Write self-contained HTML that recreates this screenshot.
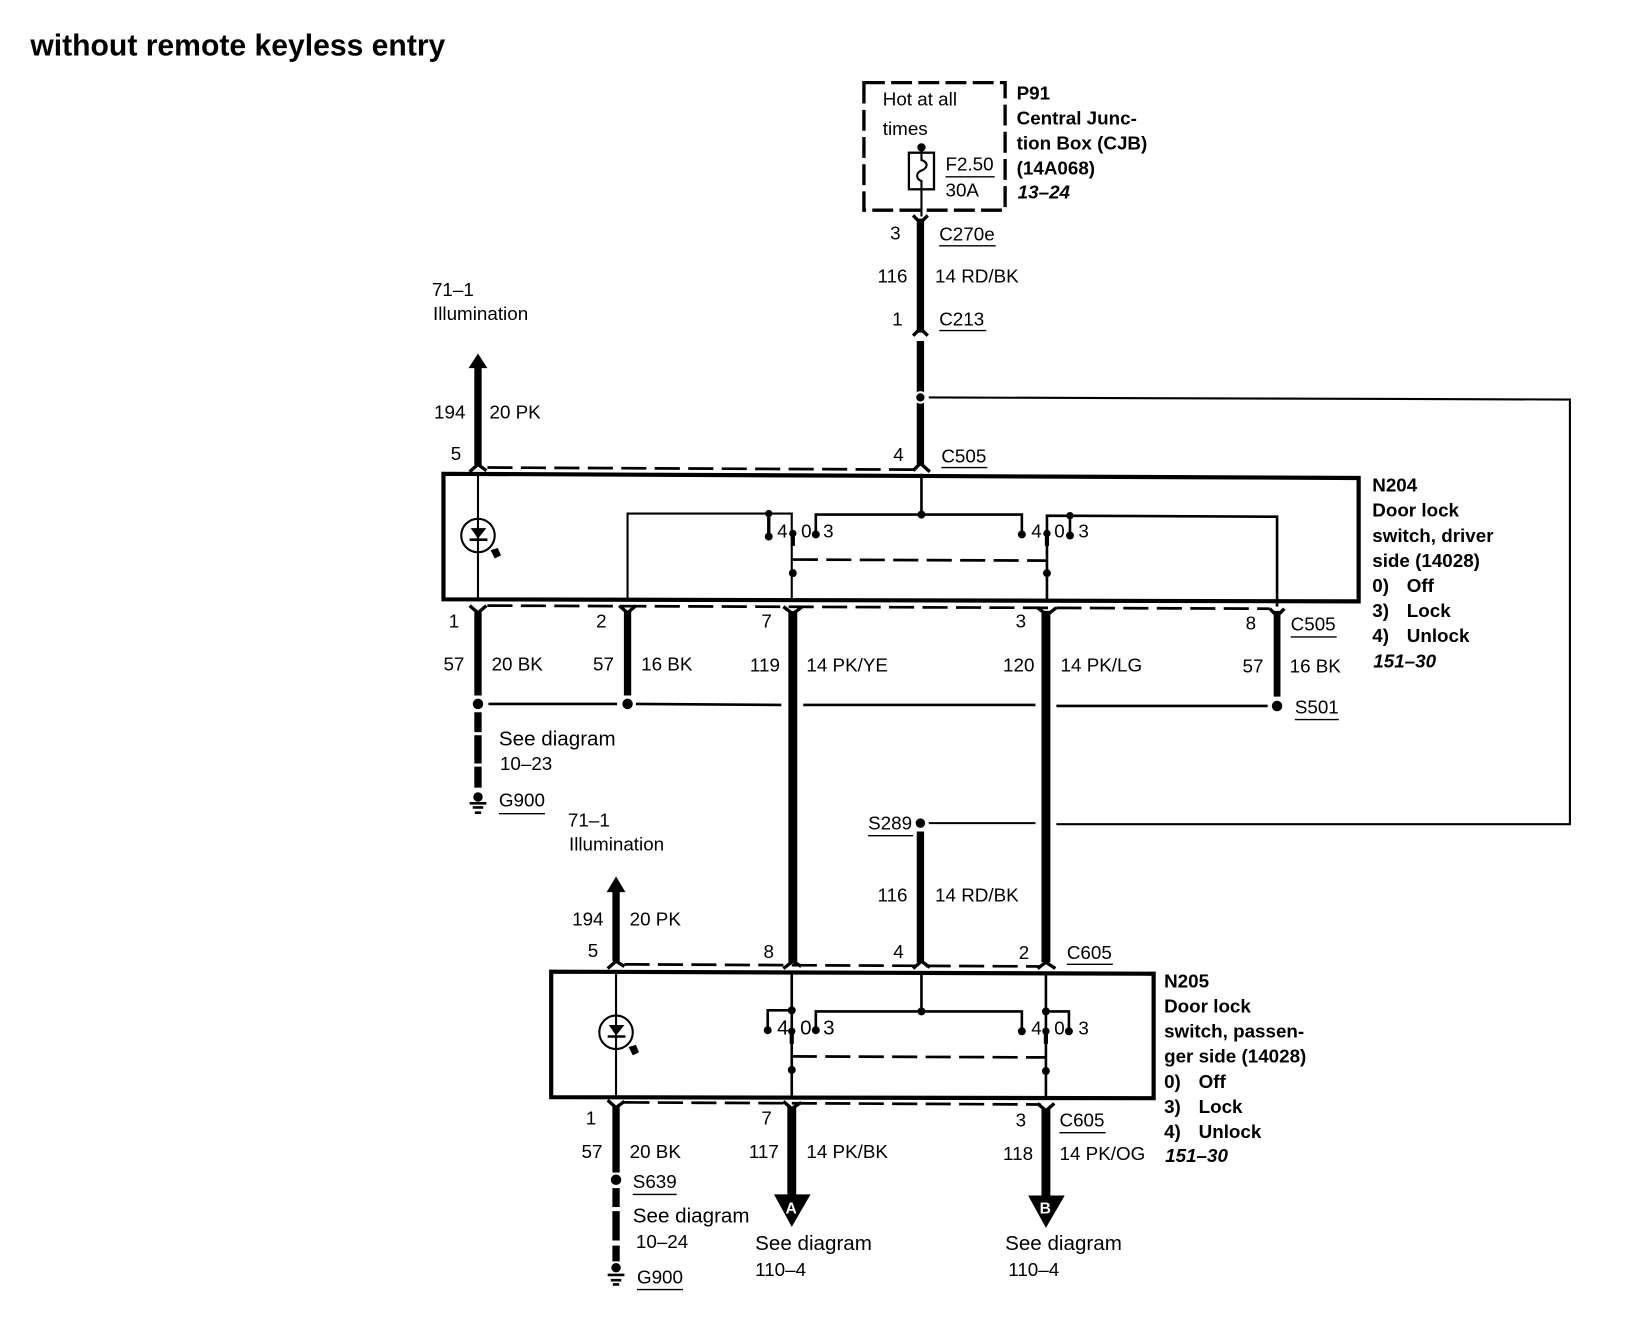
<!DOCTYPE html>
<html><head><meta charset="utf-8"><style>
html,body{margin:0;padding:0;background:#fff}
svg{display:block}
text{font-family:"Liberation Sans",sans-serif;font-size:18px;fill:#000}
.b{font-weight:bold}
.i{font-weight:bold;font-style:italic}
.s{font-size:19.7px}
.t{fill:none;stroke:#000;stroke-width:2}
.n{fill:none;stroke:#000;stroke-width:2.5}
.d{fill:none;stroke:#000;stroke-width:2.6;stroke-dasharray:24 8}
.c{fill:none;stroke:#000;stroke-width:3.2}
.u{fill:none;stroke:#000;stroke-width:1.3}
</style></head><body>
<svg xmlns="http://www.w3.org/2000/svg" width="1640" height="1344" viewBox="0 0 1568 1285">
<rect width="1568" height="1285" fill="#fff"/>
<text class="b" x="29" y="53" style="font-size:28.8px">without remote keyless entry</text>

<!-- P91 -->
<rect x="826" y="79" width="135" height="122" fill="none" stroke="#000" stroke-width="3.2" stroke-dasharray="20 6"/>
<text x="844" y="101">Hot at all</text>
<text x="844" y="129">times</text>
<circle cx="881" cy="141" r="4"/>
<rect x="869" y="146" width="24" height="35" fill="#fff" stroke="#000" stroke-width="2.2"/>
<path class="t" d="M881 141V153C889 156 886 161 881 163C876 165 875 171 881 173V207"/>
<text x="904" y="163">F2.50</text><path class="u" d="M904 169H951"/>
<text x="904" y="188">30A</text>
<text class="b" x="972" y="95">P91</text>
<text class="b" x="972" y="119">Central Junc-</text>
<text class="b" x="972" y="143">tion Box (CJB)</text>
<text class="b" x="972" y="167">(14A068)</text>
<text class="i" x="973" y="190">13–24</text>

<!-- centre top wire -->
<path class="c" d="M873 206L880 213L887 206"/>
<path stroke="#000" stroke-width="7" d="M880 209V318"/>
<path class="c" d="M873 321L880 314L887 321"/>
<path stroke="#000" stroke-width="7" d="M880 326V445"/>
<path class="c" d="M873 450L880 443L889 451"/>
<text x="851" y="229">3</text><text x="898" y="230">C270e</text><path class="u" d="M898 235H952"/>
<text x="839" y="270">116</text><text x="894" y="270">14 RD/BK</text>
<text x="853" y="311">1</text><text x="898" y="311">C213</text><path class="u" d="M898 316H943"/>
<circle cx="880" cy="380" r="6" fill="#fff"/><circle cx="880" cy="380" r="4"/>
<path class="t" d="M888 380L1501 382V788H1010M990 787H888"/>

<!-- left top arrow -->
<path d="M457 338L466 352H448Z"/>
<path stroke="#000" stroke-width="7" d="M457 350V445"/>
<path class="c" d="M449 451L457 444L465 450"/>
<text x="413" y="283">71–1</text><text x="414" y="306">Illumination</text>
<text x="415" y="400">194</text><text x="468" y="400">20 PK</text>
<text x="431" y="440">5</text><text x="854" y="441">4</text>
<text x="900" y="442">C505</text><path class="u" d="M900 447H944"/>
<path class="d" d="M466 447L873 449"/>

<!-- N204 -->
<path d="M424 453L1299 457V575L424 573Z" fill="none" stroke="#000" stroke-width="4"/>
<path class="t" d="M457 453V573"/>
<circle cx="457" cy="512" r="16" class="t"/>
<path d="M450 505H465L457 515Z"/><path class="n" d="M449 516H466"/>
<path d="M469 526L476 524L479 531L473 534Z"/>
<path class="t" d="M600 574V491H757V575"/>
<circle cx="735" cy="491" r="3.5"/><circle cx="735" cy="513" r="3.8"/><path class="c" d="M735 491V513"/>
<text x="743" y="514">4</text><circle cx="758" cy="510" r="3.5"/><path stroke="#000" stroke-width="4" d="M758 512V522"/>
<text x="766" y="514">0</text><circle cx="780" cy="511" r="3.8"/><text x="787" y="514">3</text>
<path class="n" d="M780 511V492H977V511"/><circle cx="881" cy="492" r="3.8"/><circle cx="977" cy="511" r="3.8"/>
<path class="n" d="M881 453V492"/>
<text x="986" y="514">4</text><circle cx="1001" cy="510" r="3.5"/><path stroke="#000" stroke-width="4" d="M1001 512V522"/>
<text x="1008" y="514">0</text><circle cx="1023" cy="512" r="3.8"/><text x="1031" y="514">3</text>
<circle cx="1023" cy="493" r="3.5"/><path class="n" d="M1023 493V512"/>
<path class="n" d="M1001 575V493L1221 494V580"/>
<circle cx="758" cy="548" r="3.8"/><circle cx="1001" cy="548" r="3.8"/>
<path class="d" d="M758 535L1001 536"/>

<!-- under N204 -->
<path class="d" d="M466 579L1214 582"/>
<path class="c" d="M449 579L457 586L465 579"/>
<path class="c" d="M592 579L600 586L608 579"/>
<path class="c" d="M749 580L758 587L767 580"/>
<path class="c" d="M992 581L1001 588L1010 581"/>
<path class="c" d="M1214 582L1221 589L1228 582"/>
<path stroke="#000" stroke-width="7" d="M457 584V665M600 584V665"/>
<path stroke="#000" stroke-width="8.5" d="M758 584V920M1000 584V920"/>
<path stroke="#000" stroke-width="6.5" d="M1221 584V666"/>
<circle cx="457" cy="673" r="5"/><circle cx="600" cy="673" r="5"/><circle cx="1221" cy="675" r="5"/>
<path class="n" d="M467 673H590M608 673L747 674M768 674H990M1010 675H1212"/>
<path stroke="#000" stroke-width="7" d="M457 681V700M457 703V730M457 733V753"/>
<circle cx="457" cy="762" r="4.5"/><path class="n" d="M449 768H465M452 772H462M454 777H460"/>

<text x="429" y="600">1</text><text x="570" y="600">2</text><text x="728" y="600">7</text><text x="971" y="600">3</text><text x="1191" y="602">8</text>
<text x="1234" y="603">C505</text><path class="u" d="M1234 609H1278"/>
<text x="424" y="641">57</text><text x="470" y="641">20 BK</text>
<text x="567" y="641">57</text><text x="613" y="641">16 BK</text>
<text x="717" y="642">119</text><text x="771" y="642">14 PK/YE</text>
<text x="959" y="642">120</text><text x="1014" y="642">14 PK/LG</text>
<text x="1188" y="643">57</text><text x="1233" y="643">16 BK</text>
<text x="1238" y="682">S501</text><path class="u" d="M1238 688H1280"/>
<text class="s" x="477" y="713">See diagram</text><text x="478" y="736">10–23</text>
<text x="477" y="771">G900</text><path class="u" d="M477 778H521"/>

<text class="b" x="1312" y="470">N204</text>
<text class="b" x="1312" y="494">Door lock</text>
<text class="b" x="1312" y="518">switch, driver</text>
<text class="b" x="1312" y="542">side (14028)</text>
<text class="b" x="1312" y="566">0)</text><text class="b" x="1345" y="566">Off</text>
<text class="b" x="1312" y="590">3)</text><text class="b" x="1345" y="590">Lock</text>
<text class="b" x="1312" y="614">4)</text><text class="b" x="1345" y="614">Unlock</text>
<text class="i" x="1313" y="638">151–30</text>

<!-- middle -->
<text x="830" y="793">S289</text><path class="u" d="M830 799H873"/>
<circle cx="880" cy="787" r="4.5"/>
<path stroke="#000" stroke-width="7" d="M880 795V920"/>
<text x="839" y="862">116</text><text x="894" y="862">14 RD/BK</text>
<text x="543" y="790">71–1</text><text x="544" y="813">Illumination</text>
<path d="M589 838L598 853H580Z"/>
<path stroke="#000" stroke-width="7" d="M589 851V919"/>
<text x="547" y="885">194</text><text x="602" y="885">20 PK</text>
<text x="562" y="915">5</text><text x="730" y="916">8</text><text x="854" y="916">4</text><text x="974" y="917">2</text>
<text x="1020" y="917">C605</text><path class="u" d="M1020 922H1064"/>
<path class="d" d="M597 922L995 924"/>
<path class="c" d="M581 926L589 919L597 924"/>
<path class="c" d="M749 926L758 919L766 924"/>
<path class="c" d="M873 926L881 919L889 925"/>
<path class="c" d="M992 926L1000 920L1009 926"/>

<!-- N205 -->
<path d="M527 929L1103 931V1050L527 1049Z" fill="none" stroke="#000" stroke-width="4"/>
<path class="t" d="M589 929V1049"/>
<circle cx="589" cy="987" r="16" class="t"/>
<path d="M582 980H597L589 990Z"/><path class="n" d="M581 991H598"/>
<path d="M601 1001L608 999L611 1006L605 1009Z"/>
<path class="n" d="M757 929V1049M1000 929V1050"/>
<circle cx="757" cy="966" r="3.8"/><path class="n" d="M757 966H734V985"/><circle cx="734" cy="985" r="3.8"/>
<text class="s" x="743" y="989">4</text><circle cx="757" cy="986" r="3.5"/><path stroke="#000" stroke-width="4" d="M757 988V998"/>
<text class="s" x="765" y="989">0</text><circle cx="780" cy="985" r="3.8"/><text class="s" x="787" y="989">3</text>
<path class="n" d="M780 985V967H977V985"/><circle cx="881" cy="967" r="3.8"/><circle cx="977" cy="986" r="3.8"/>
<path class="n" d="M881 929V967"/>
<text x="986" y="989">4</text><circle cx="1000" cy="986" r="3.5"/><path stroke="#000" stroke-width="4" d="M1000 988V998"/>
<text x="1008" y="989">0</text><circle cx="1022" cy="986" r="3.8"/><text x="1031" y="989">3</text>
<circle cx="1000" cy="967" r="3.8"/><path class="n" d="M1000 967H1022V986"/>
<circle cx="757" cy="1023" r="3.8"/><circle cx="1000" cy="1024" r="3.8"/>
<path class="d" d="M757 1010L1000 1011"/>

<path class="d" d="M597 1054L995 1056"/>
<path class="c" d="M581 1052L589 1059L597 1053"/>
<path class="c" d="M749 1053L757 1060L766 1054"/>
<path class="c" d="M992 1055L1000 1062L1008 1055"/>
<path stroke="#000" stroke-width="7" d="M589 1058V1121"/>
<path stroke="#000" stroke-width="8.5" d="M757 1058V1145M1000 1060V1145"/>
<circle cx="589" cy="1128" r="5"/>
<path stroke="#000" stroke-width="7" d="M589 1136V1154M589 1158V1186M589 1191V1206"/>
<circle cx="589" cy="1212" r="4.5"/><path class="n" d="M581 1219H597M584 1224H594M586 1228H592"/>
<path d="M740 1142H775L757 1173Z"/><path d="M983 1143H1018L1000 1174Z"/>
<text class="b" x="751" y="1160" style="font-size:15px;fill:#fff">A</text>
<text class="b" x="994" y="1160" style="font-size:15px;fill:#fff">B</text>

<text x="560" y="1075">1</text><text x="728" y="1075">7</text><text x="971" y="1077">3</text>
<text x="1013" y="1077">C605</text><path class="u" d="M1013 1083H1057"/>
<text x="556" y="1107">57</text><text x="602" y="1107">20 BK</text>
<text x="716" y="1107">117</text><text x="771" y="1107">14 PK/BK</text>
<text x="959" y="1109">118</text><text x="1013" y="1109">14 PK/OG</text>
<text x="605" y="1136">S639</text><path class="u" d="M605 1142H647"/>
<text class="s" x="605" y="1169">See diagram</text><text x="608" y="1193">10–24</text>
<text x="609" y="1227">G900</text><path class="u" d="M609 1233H653"/>
<text class="s" x="722" y="1195">See diagram</text><text x="722" y="1220">110–4</text>
<text class="s" x="961" y="1195">See diagram</text><text x="964" y="1220">110–4</text>

<text class="b" x="1113" y="944">N205</text>
<text class="b" x="1113" y="968">Door lock</text>
<text class="b" x="1113" y="992">switch, passen-</text>
<text class="b" x="1113" y="1016">ger side (14028)</text>
<text class="b" x="1113" y="1040">0)</text><text class="b" x="1146" y="1040">Off</text>
<text class="b" x="1113" y="1064">3)</text><text class="b" x="1146" y="1064">Lock</text>
<text class="b" x="1113" y="1088">4)</text><text class="b" x="1146" y="1088">Unlock</text>
<text class="i" x="1114" y="1111">151–30</text>
</svg>
</body></html>
